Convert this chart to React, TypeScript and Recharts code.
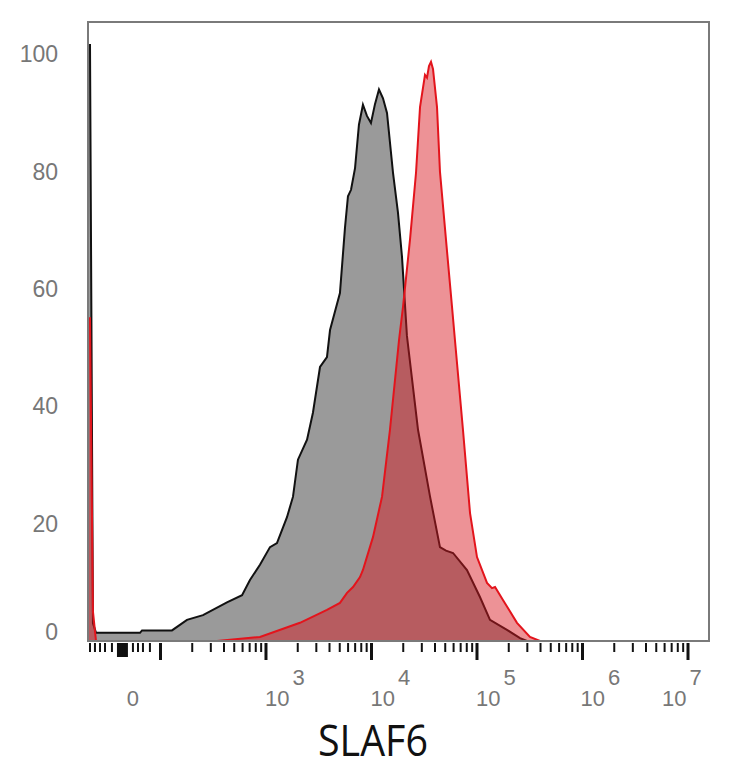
import { Area, ComposedChart, ReferenceArea, XAxis, YAxis } from "recharts";

// positions are display decades (10^3 -> 3); below 2 is the linear zone around 0
const grayPos = [
  1.313, 1.332, 1.36, 1.389, 1.806, 1.825, 2.109, 2.251, 2.403, 2.63, 2.773, 2.848, 2.943, 3.038,
  3.104, 3.199, 3.256, 3.303, 3.389, 3.445, 3.512, 3.578, 3.607, 3.701, 3.749, 3.777, 3.806, 3.844,
  3.881, 3.919, 3.957, 3.995, 4.033, 4.071, 4.109, 4.147, 4.204, 4.251, 4.289, 4.336, 4.441, 4.555,
  4.649, 4.706, 4.773, 4.905, 5.028, 5.123, 5.284, 5.408, 5.474, 7.199,
];
const grayPct = [
  101.6, 101.6, 3, 1.4, 1.4, 1.8, 1.8, 3.6, 4.4, 6.6, 7.8, 10.4, 13.0, 16.0,
  16.7, 21.1, 24.6, 30.9, 34.3, 38.9, 46.7, 48.4, 53, 59.3, 70.5, 75.8, 76.9, 80.6,
  88.0, 91.4, 89.5, 88.3, 91.5, 94.0, 92.5, 90.0, 79.8, 73.0, 65.5, 52.0, 36, 24.6,
  16.0, 15.4, 15.0, 12.1, 7.5, 3.6, 1.9, 0.5, 0, 0,
];

const redPos = [
  1.313, 1.332, 1.36, 1.389, 2.536, 2.943, 3.322, 3.578, 3.701, 3.768, 3.825, 3.891, 3.919, 4.014,
  4.1, 4.175, 4.261, 4.299, 4.365, 4.422, 4.46, 4.507, 4.526, 4.545, 4.564, 4.583, 4.621, 4.649,
  4.706, 4.763, 4.791, 4.867, 4.934, 5.0, 5.095, 5.142, 5.171, 5.246, 5.379, 5.502, 5.597, 7.199,
];
const redPct = [
  55, 55, 5, 0, 0, 0.7, 3.1, 5.3, 6.5, 8.2, 9.2, 10.9, 12.1, 17.7,
  24.6, 36, 51.3, 57, 68.4, 79.8, 91, 96.5, 96.0, 98.0, 98.7, 97.5, 91, 80,
  68.4, 57, 51.3, 36, 21.8, 14.3, 9.9, 9.0, 9.2, 7.0, 3.1, 0.7, 0, 0,
];

const yTicks = [0, 20, 40, 60, 80, 100];
const decadeTicks = [2, 3, 4, 5, 6, 7];
const linearTicks = [1.332, 1.379, 1.427, 1.474, 1.54, 1.739, 1.787, 1.834, 1.9];
const zeroBlockTicks = [1.597, 1.607, 1.616, 1.626, 1.635, 1.645, 1.654, 1.664, 1.673, 1.682];
const minorMultiples = [2, 3, 4, 5, 6, 7, 8, 9];
const decadeLabels = [
  { pos: 1.739, base: "0", exp: "", shift: 0 },
  { pos: 3, base: "10", exp: "3", shift: -1 },
  { pos: 4, base: "10", exp: "4", shift: -1 },
  { pos: 5, base: "10", exp: "5", shift: -1 },
  { pos: 6, base: "10", exp: "6", shift: -2 },
  { pos: 7, base: "10", exp: "7", shift: -26 },
];

const logMinors = decadeTicks
  .slice(0, -1)
  .flatMap((d) => minorMultiples.map((k) => +(d + Math.log10(k)).toFixed(4)));
const xTicks = [...linearTicks, ...zeroBlockTicks, ...decadeTicks, ...logMinors].sort((a, b) => a - b);

const grayData = grayPos.map((pos, i) => ({ pos, pct: grayPct[i] }));
const redData = redPos.map((pos, i) => ({ pos, pct: redPct[i] }));

const LABEL_FONT = "'Liberation Sans', Arial, sans-serif";

function XTick(props: any) {
  const { x, y, payload } = props;
  const v = payload.value;
  const major = decadeTicks.includes(v);
  const block = zeroBlockTicks.includes(v);
  const len = major ? 17 : block ? 14 : 9;
  const label = decadeLabels.find((l) => Math.abs(l.pos - v) < 1e-6);
  return (
    <g>
      <line x1={x} x2={x} y1={y + 2} y2={y + 2 + len} stroke="#111" strokeWidth={major ? 3 : 2} />
      {label && !label.exp && (
        <text x={x} y={y + 57} textAnchor="middle" dominantBaseline="central" fill="#777" fontSize={22} fontFamily={LABEL_FONT}>
          {label.base}
        </text>
      )}
      {label && label.exp && (
        <text x={x + label.shift} y={y + 57} textAnchor="start" dominantBaseline="central" fill="#777" fontSize={22} fontFamily={LABEL_FONT}>
          {label.base}
          <tspan dx={3} dy={-21}>{label.exp}</tspan>
        </text>
      )}
    </g>
  );
}

function YTick(props: any) {
  const { x, y, payload } = props;
  const dy = payload.value === 0 ? -9 : 0;
  return (
    <text x={x - 30} y={y + dy} textAnchor="end" dominantBaseline="central" fill="#777" fontSize={23} fontFamily={LABEL_FONT}>
      {payload.value}
    </text>
  );
}

export default function App() {
  return (
    <div style={{ position: "absolute", left: 0, top: 0, width: 734, height: 768, background: "#fff" }}>
      <ComposedChart width={734} height={768} margin={{ top: 22, right: 25, bottom: 0, left: 0 }}>
        <XAxis
          type="number"
          dataKey="pos"
          domain={[1.313, 7.199]}
          allowDataOverflow
          ticks={xTicks}
          interval={0}
          height={127}
          axisLine={false}
          tickLine={false}
          tickSize={0}
          tickMargin={0}
          tick={(p: any) => <XTick {...p} />}
        />
        <YAxis
          type="number"
          domain={[0, 105.5]}
          allowDataOverflow
          ticks={yTicks}
          interval={0}
          width={88}
          axisLine={false}
          tickLine={false}
          tickSize={0}
          tickMargin={0}
          tick={(p: any) => <YTick {...p} />}
        />
        <Area
          data={grayData}
          dataKey="pct"
          type="linear"
          stroke="#111"
          strokeWidth={2}
          fill="#9a9a9a"
          fillOpacity={1}
          isAnimationActive={false}
        />
        <Area
          data={redData}
          dataKey="pct"
          type="linear"
          stroke="#e3141c"
          strokeWidth={2}
          fill="#d81820"
          fillOpacity={0.47}
          isAnimationActive={false}
        />
        <ReferenceArea x1={1.313} x2={7.199} y1={0} y2={105.5} fillOpacity={0} stroke="#7a7a7a" strokeWidth={2} ifOverflow="visible" />
      </ComposedChart>
      <svg width={734} height={768} style={{ position: "absolute", left: 0, top: 0, pointerEvents: "none" }}>
        <text x={373} y={756} textAnchor="middle" fill="#111" fontSize={44} fontFamily="'Open Sans', sans-serif" textLength={110} lengthAdjust="spacingAndGlyphs">
          SLAF6
        </text>
      </svg>
    </div>
  );
}
